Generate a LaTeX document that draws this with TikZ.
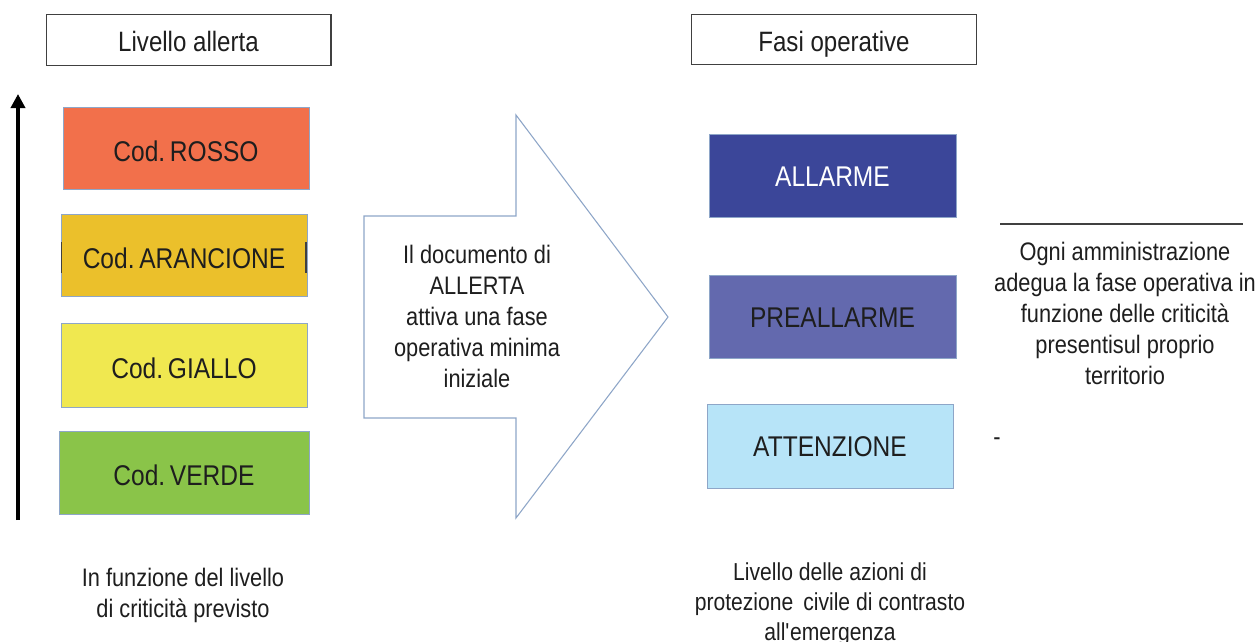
\documentclass[tikz,border=0pt]{standalone}
\usepackage{fontspec}
\setmainfont{Liberation Sans}[FakeStretch=0.86]
\usetikzlibrary{arrows.meta}
\definecolor{rosso}{HTML}{F2704B}
\definecolor{arancio}{HTML}{EBC02B}
\definecolor{giallo}{HTML}{F0E850}
\definecolor{verde}{HTML}{8AC449}
\definecolor{allarme}{HTML}{3B4699}
\definecolor{preall}{HTML}{6369AE}
\definecolor{attenz}{HTML}{B7E4F8}
\definecolor{edgeblue}{HTML}{8EA6C8}
\definecolor{txt}{HTML}{1E1E1E}
\definecolor{framegray}{HTML}{404040}
\tikzset{
  codbox/.style={draw=edgeblue, line width=0.75pt, inner sep=0pt, outer sep=0pt,
    minimum width=184.5pt, minimum height=61.5pt, text=txt,
    text height=20.2pt, text depth=0pt,
    font=\fontsize{21.4}{25}\selectfont},
  phasebox/.style={codbox, text height=16pt},
  titlebox/.style={draw=framegray, line width=1pt, fill=white, inner sep=0pt, outer sep=0pt,
    minimum width=213.5pt, minimum height=37.8pt, text=txt,
    text height=18pt, text depth=0pt,
    font=\fontsize{21}{25}\selectfont},
  bodytext/.style={align=center, text=txt, inner sep=0pt,
    font=\fontsize{19}{23.25}\selectfont},
  bottomtext/.style={align=center, text=txt, inner sep=0pt,
    font=\fontsize{18.4}{22.5}\selectfont},
}
\begin{document}
\begin{tikzpicture}[x=0.75pt,y=-0.75pt]
\useasboundingbox[fill=white] (0,0) rectangle (1256,642);

% titles
\node[titlebox] (tl) at (188.5,40) {Livello allerta};
\node[titlebox] (tr) at (834,39.5) {Fasi operative};

% vertical arrow
\coordinate (abot) at (18,520);
\coordinate (atop) at (18,94);
\draw[line width=2.6pt, black, -{Triangle[length=10.5pt,width=10.5pt]}] (abot) -- (atop);

% alert codes
\node[codbox, fill=rosso] (rosso) at (186,148) {Cod.\,ROSSO};
\node[codbox, fill=arancio] (arancio) at (184,255) {Cod.\,ARANCIONE};
\node[codbox, fill=giallo, minimum height=63pt] (giallo) at (184,365) {Cod.\,GIALLO};
\node[codbox, fill=verde, minimum width=187.5pt, minimum height=62.25pt] (verde) at (184,472.5) {Cod.\,VERDE};
\draw[framegray, line width=0.9pt] (61.5,242) -- (61.5,273);
\draw[framegray, line width=0.9pt] (306,242) -- (306,273);

\node[bodytext] (lefttxt) at (183,595) {In funzione del livello\\di criticità previsto};

% big arrow
\draw[edgeblue, line width=0.8pt, fill=white]
  (364,216) -- (516,216) -- (516,115) -- (668,317) -- (516,518) -- (516,418) -- (364,418) -- cycle;
\node[bodytext] (arrtxt) at (477,316) {Il documento di\\ALLERTA\\attiva una fase\\operativa minima\\iniziale};

% operative phases
\node[phasebox, fill=allarme, text=white, minimum width=185.25pt, minimum height=62.25pt] (allarme) at (832.5,175.5) {ALLARME};
\node[phasebox, fill=preall, minimum width=185.25pt, minimum height=62.25pt] (preall) at (832.5,316.5) {PREALLARME};
\node[phasebox, fill=attenz, minimum height=63pt] (attenz) at (830,446) {ATTENZIONE};

\node[bottomtext] (bottxt) at (830,604) {Livello delle azioni di\\protezione\, civile di contrasto\\all\textquotesingle emergenza};

% right note
\coordinate (l1) at (1000,224);
\coordinate (l2) at (1243,224);
\draw[framegray, line width=1.4pt] (l1) -- (l2);
\node[bodytext] (note) at (1125,313.5) {Ogni amministrazione\\adegua la fase operativa in\\funzione delle criticità\\presentisul proprio\\territorio};
\node[bodytext] (dash) at (997,442) {-};
\end{tikzpicture}
\end{document}
